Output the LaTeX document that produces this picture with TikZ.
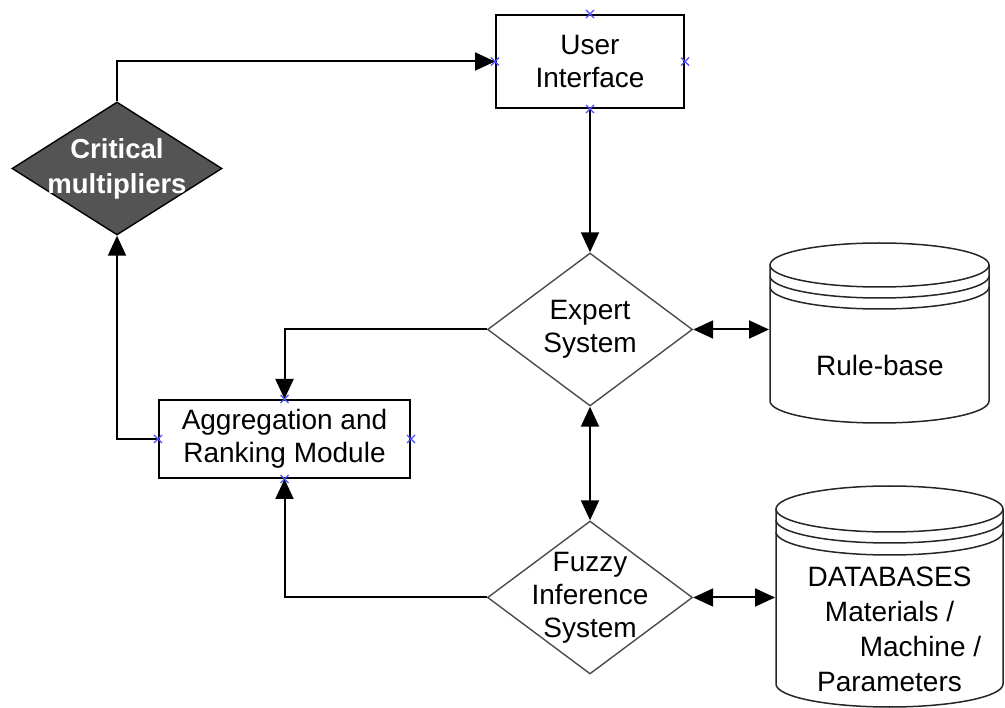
\documentclass[tikz,border=0pt]{standalone}
\usepackage{fontspec}
\setmainfont{Liberation Sans}
\usetikzlibrary{shapes.geometric,arrows.meta}

% small blue connection marks on the boxes
\newcommand{\conpt}[1]{\draw[blue!70!white, line width=1.1pt] (#1) +(-4,-4) -- +(4,4) (#1) +(-4,4) -- +(4,-4);}

\begin{document}
\begin{tikzpicture}[x=1pt, y=-1pt, line width=2pt,
    font=\fontsize{28}{33}\selectfont,
    >={Triangle[length=20pt,width=18pt]},
    block/.style={draw, line width=2pt, align=center, inner sep=0},
    dmd/.style={diamond, draw=black!70, line width=1.4pt, inner sep=0,
        minimum width=205pt, minimum height=153pt},
    store/.style={rectangle, draw=none, inner sep=0},
    drum/.style={draw=black!85, line width=1.5pt}]
        \useasboundingbox (0,0) rectangle (1005,708);

        \node[block, minimum width=188pt, minimum height=93pt] (ui) at (590,61.5) {User\\Interface};
        \node[block, minimum width=251pt, minimum height=78pt] (agg) at (284.5,439) {Aggregation and\\Ranking Module};

        \node[dmd, label={[align=center]center:Expert\\System}] (es) at (590,329.5) {};
        \node[dmd, label={[align=center]center:Fuzzy\\Inference\\System}] (fis) at (590,597.5) {};
        \node[dmd, fill=black!67, draw=black, minimum width=210pt, minimum height=133pt,
            label={[align=center, text=white, font=\fontsize{27.5}{35}\selectfont\bfseries]center:Critical\\multipliers}] (cm) at (117,168.5) {};

        % rule-base drum
        \node[store, minimum width=219pt, minimum height=180pt] (rb) at (879.5,333) {};
        \draw[drum] (770,265) -- (770,401) arc[start angle=180, end angle=360, x radius=109.5pt, y radius=22pt] -- (989,265);
        \draw[drum] (879.5,265) ellipse [x radius=109.5pt, y radius=22pt];
        \draw[drum] (770,276) arc[start angle=180, end angle=360, x radius=109.5pt, y radius=22pt];
        \draw[drum] (770,287) arc[start angle=180, end angle=360, x radius=109.5pt, y radius=22pt];
        \node at (880,365) {Rule-base};

        % databases drum
        \node[store, minimum width=227pt, minimum height=221pt] (db) at (889.5,596.5) {};
        \draw[drum] (776,509) -- (776,684) arc[start angle=180, end angle=360, x radius=113.5pt, y radius=23pt] -- (1003,509);
        \draw[drum] (889.5,509) ellipse [x radius=113.5pt, y radius=23pt];
        \draw[drum] (776,520) arc[start angle=180, end angle=360, x radius=113.5pt, y radius=23pt];
        \draw[drum] (776,532) arc[start angle=180, end angle=360, x radius=113.5pt, y radius=23pt];
        \node[align=center, font=\fontsize{28}{35}\selectfont] at (889.5,629.5) {DATABASES\\Materials /\\\hspace*{62pt}Machine /\\Parameters};

        \draw[->] (cm.north) |- (ui.west);
        \draw[->] (ui.south) -- (es.north);
        \draw[<->] (es.south) -- (fis.north);
        \draw[<->] (es.east) -- (es.east -| rb.west);
        \draw[<->] (fis.east) -- (fis.east -| db.west);
        \draw[->] (es.west) -| (agg.north);
        \draw[->] (fis.west) -| (agg.south);
        \draw[->] (agg.west) -| (cm.south);

        \conpt{ui.north} \conpt{ui.south} \conpt{ui.west} \conpt{ui.east}
        \conpt{agg.north} \conpt{agg.south} \conpt{agg.west} \conpt{agg.east}
    \end{tikzpicture}
\end{document}
